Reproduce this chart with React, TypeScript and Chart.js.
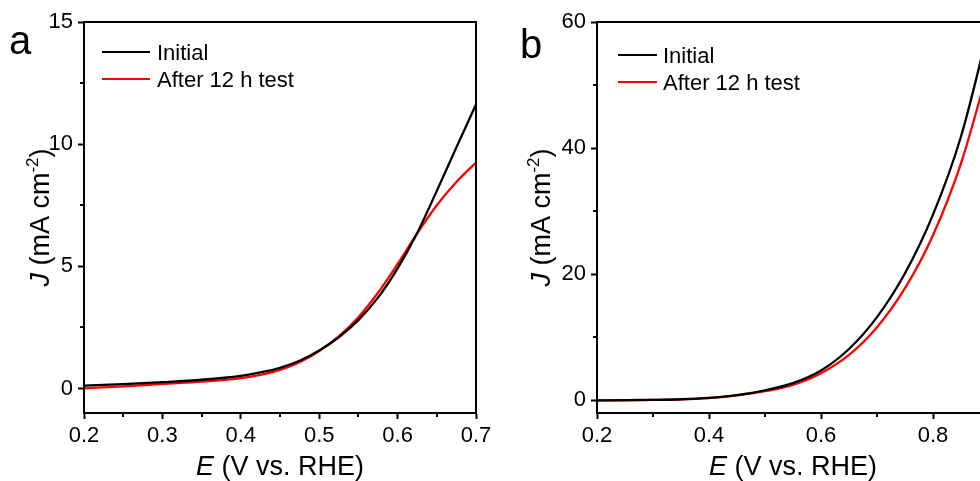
import React, { useEffect, useRef } from 'react';
import { Chart, registerables } from 'chart.js';

Chart.register(...registerables);

// ---------- data ----------
const SERIES_LABELS = ['Initial', 'After 12 h test'];
const SERIES_COLORS = ['#000000', '#ff0000'];

// panel a
const E_A = [0.2, 0.25, 0.3, 0.35, 0.4, 0.425, 0.45, 0.475, 0.5, 0.525, 0.55, 0.575, 0.6, 0.625, 0.65, 0.675, 0.7];
const J_A_INITIAL = [0.12, 0.18, 0.26, 0.36, 0.52, 0.66, 0.85, 1.14, 1.56, 2.1, 2.8, 3.72, 4.92, 6.37, 8.09, 9.87, 11.62];
const J_A_AFTER = [0.01, 0.09, 0.19, 0.28, 0.43, 0.56, 0.76, 1.08, 1.54, 2.14, 2.92, 3.92, 5.1, 6.35, 7.5, 8.45, 9.25];
const X_TICKS_A = [0.2, 0.3, 0.4, 0.5, 0.6, 0.7];
const Y_TICKS_A = [0, 5, 10, 15];

// panel b
const E_B = [0.2, 0.25, 0.3, 0.35, 0.4, 0.45, 0.5, 0.55, 0.6, 0.65, 0.7, 0.75, 0.8, 0.85, 0.9];
const J_B_INITIAL = [0.0, 0.03, 0.08, 0.18, 0.4, 0.85, 1.6, 2.75, 4.75, 8.15, 13.2, 20.15, 29.45, 41.85, 59.15];
const J_B_AFTER = [0.0, 0.02, 0.07, 0.16, 0.37, 0.78, 1.45, 2.45, 4.3, 7.2, 11.6, 17.8, 26.2, 37.6, 53.0];
const X_TICKS_B = [0.2, 0.4, 0.6, 0.8];
const Y_TICKS_B = [0, 20, 40, 60];

const FONT = "'Liberation Sans', Arial, Helvetica, sans-serif";
const CANVAS_H = 481;

type Spec = {
  letter: string;
  letterX: number;
  letterY: number;
  xs: number[];
  ys: number[][];
  xMin: number; xMax: number; yMin: number; yMax: number;
  xTicks: number[]; yTicks: number[];
  xMinorStep: number; yMinorStep: number;
  canvasW: number;
  plotLeft: number; plotRight: number; plotTop: number; plotBottom: number;
  legend: { x1: number; x2: number; textX: number; y: number[] };
  yTitleX: number;
};

function makeDecor(spec: Spec) {
  return {
    id: 'decor' + spec.letter,
    afterDraw(chart: any) {
      const { ctx, chartArea: ca, scales } = chart;
      const xs = scales.x;
      const ys = scales.y;
      ctx.save();
      // frame
      ctx.strokeStyle = '#000';
      ctx.lineWidth = 2;
      ctx.strokeRect(ca.left, ca.top, ca.right - ca.left, ca.bottom - ca.top);
      // minor ticks
      ctx.beginPath();
      const nx = Math.round((spec.xMax - spec.xMin) / spec.xMinorStep);
      for (let i = 0; i <= nx; i++) {
        const v = spec.xMin + i * spec.xMinorStep;
        if (spec.xTicks.some((t) => Math.abs(t - v) < 1e-6)) continue;
        const px = Math.round(xs.getPixelForValue(v));
        ctx.moveTo(px, ca.bottom);
        ctx.lineTo(px, ca.bottom + 4);
      }
      const ny = Math.round((spec.yMax - spec.yMin) / spec.yMinorStep);
      for (let i = 0; i <= ny; i++) {
        const v = Math.ceil(spec.yMin / spec.yMinorStep) * spec.yMinorStep + i * spec.yMinorStep;
        if (v > spec.yMax) break;
        if (spec.yTicks.some((t) => Math.abs(t - v) < 1e-6)) continue;
        const py = Math.round(ys.getPixelForValue(v));
        ctx.moveTo(ca.left, py);
        ctx.lineTo(ca.left - 4, py);
      }
      ctx.stroke();

      ctx.fillStyle = '#000';
      // panel letter
      ctx.font = `40px ${FONT}`;
      ctx.textBaseline = 'alphabetic';
      ctx.textAlign = 'left';
      ctx.fillText(spec.letter, spec.letterX, spec.letterY);

      // legend
      const ds = chart.data.datasets;
      ds.forEach((d: any, i: number) => {
        const y = spec.legend.y[i];
        ctx.strokeStyle = d.borderColor;
        ctx.lineWidth = 2;
        ctx.beginPath();
        ctx.moveTo(spec.legend.x1, y);
        ctx.lineTo(spec.legend.x2, y);
        ctx.stroke();
        ctx.fillStyle = '#000';
        ctx.font = `22px ${FONT}`;
        ctx.fillText(d.label, spec.legend.textX, y + 8);
      });

      // x title
      const cx = (ca.left + ca.right) / 2;
      const xParts = [
        { t: 'E', f: `italic 27px ${FONT}`, dy: 0 },
        { t: ' (V vs. RHE)', f: `27px ${FONT}`, dy: 0 },
      ];
      let tw = 0;
      xParts.forEach((p) => { ctx.font = p.f; tw += ctx.measureText(p.t).width; });
      let x0 = cx - tw / 2;
      xParts.forEach((p) => {
        ctx.font = p.f;
        ctx.fillText(p.t, x0, 475 + p.dy);
        x0 += ctx.measureText(p.t).width;
      });

      // y title
      const cy = (ca.top + ca.bottom) / 2;
      ctx.save();
      ctx.translate(spec.yTitleX, cy);
      ctx.rotate(-Math.PI / 2);
      const yParts = [
        { t: 'J', f: `italic 27px ${FONT}`, dy: 0 },
        { t: ' (mA cm', f: `27px ${FONT}`, dy: 0 },
        { t: '-2', f: `17px ${FONT}`, dy: -11 },
        { t: ')', f: `27px ${FONT}`, dy: 0 },
      ];
      let th = 0;
      yParts.forEach((p) => { ctx.font = p.f; th += ctx.measureText(p.t).width; });
      let y0 = -th / 2;
      yParts.forEach((p) => {
        ctx.font = p.f;
        ctx.fillText(p.t, y0, p.dy);
        y0 += ctx.measureText(p.t).width;
      });
      ctx.restore();

      ctx.restore();
    },
  };
}

function Panel({ spec, left }: { spec: Spec; left: number }) {
  const ref = useRef<HTMLCanvasElement | null>(null);
  useEffect(() => {
    const canvas = ref.current;
    if (!canvas) return;
    const datasets = spec.ys.map((ys, i) => ({
      label: SERIES_LABELS[i],
      data: spec.xs.map((x, k) => ({ x, y: ys[k] })),
      borderColor: SERIES_COLORS[i],
      backgroundColor: SERIES_COLORS[i],
      borderWidth: 2.3,
      pointRadius: 0,
      fill: false,
      cubicInterpolationMode: 'monotone' as const,
    }));
    const tickFont = { family: FONT, size: 22 };
    const chart = new Chart(canvas, {
      type: 'line',
      data: { datasets },
      options: {
        animation: false,
        responsive: false,
        maintainAspectRatio: false,
        events: [],
        layout: {
          padding: { left: 0, top: spec.plotTop, right: spec.canvasW - spec.plotRight, bottom: 0 },
        },
        plugins: { legend: { display: false }, tooltip: { enabled: false }, title: { display: false } },
        scales: {
          x: {
            type: 'linear',
            min: spec.xMin,
            max: spec.xMax,
            afterBuildTicks: (s: any) => { s.ticks = spec.xTicks.map((v) => ({ value: v })); },
            afterFit: (s: any) => { s.height = CANVAS_H - spec.plotBottom; s.paddingLeft = 0; s.paddingRight = 0; },
            ticks: {
              color: '#000',
              font: tickFont,
              padding: 4,
              autoSkip: false,
              maxRotation: 0,
              callback: (v: any) => Number(v).toFixed(1),
            },
            grid: { display: true, drawOnChartArea: false, drawTicks: true, tickLength: 6, tickColor: '#000', tickWidth: 2 },
            border: { display: true, color: '#000', width: 2 },
            title: { display: false },
          },
          y: {
            type: 'linear',
            min: spec.yMin,
            max: spec.yMax,
            afterBuildTicks: (s: any) => { s.ticks = spec.yTicks.map((v) => ({ value: v })); },
            afterFit: (s: any) => { s.width = spec.plotLeft; s.paddingTop = 0; s.paddingBottom = 0; },
            ticks: {
              color: '#000',
              font: tickFont,
              padding: 5,
              autoSkip: false,
              callback: (v: any) => String(v),
            },
            grid: { display: true, drawOnChartArea: false, drawTicks: true, tickLength: 6, tickColor: '#000', tickWidth: 2 },
            border: { display: true, color: '#000', width: 2 },
            title: { display: false },
          },
        },
      },
      plugins: [makeDecor(spec)],
    } as any);
    return () => chart.destroy();
  }, [spec]);
  return (
    <canvas
      ref={ref}
      width={spec.canvasW}
      height={CANVAS_H}
      style={{ position: 'absolute', left, top: 0, width: spec.canvasW, height: CANVAS_H, display: 'block' }}
    />
  );
}

const SPEC_A: Spec = {
  letter: 'a', letterX: 9, letterY: 54,
  xs: E_A, ys: [J_A_INITIAL, J_A_AFTER],
  xMin: 0.2, xMax: 0.7, yMin: -1, yMax: 15,
  xTicks: X_TICKS_A, yTicks: Y_TICKS_A,
  xMinorStep: 0.05, yMinorStep: 2.5,
  canvasW: 505,
  plotLeft: 84, plotRight: 476, plotTop: 22, plotBottom: 413,
  legend: { x1: 102, x2: 150, textX: 157, y: [52, 79] },
  yTitleX: 49,
};

const SPEC_B: Spec = {
  letter: 'b', letterX: 30, letterY: 58,
  xs: E_B, ys: [J_B_INITIAL, J_B_AFTER],
  xMin: 0.2, xMax: 0.9, yMin: -2, yMax: 60,
  xTicks: X_TICKS_B, yTicks: Y_TICKS_B,
  xMinorStep: 0.1, yMinorStep: 10,
  canvasW: 520,
  plotLeft: 107, plotRight: 499, plotTop: 22, plotBottom: 413,
  legend: { x1: 128, x2: 167, textX: 173, y: [55, 82] },
  yTitleX: 60,
};

export default function App() {
  return (
    <div style={{ position: 'fixed', left: 0, top: 0, width: 980, height: 481, overflow: 'hidden', background: '#fff' }}>
      <Panel spec={SPEC_A} left={0} />
      <Panel spec={SPEC_B} left={490} />
    </div>
  );
}
